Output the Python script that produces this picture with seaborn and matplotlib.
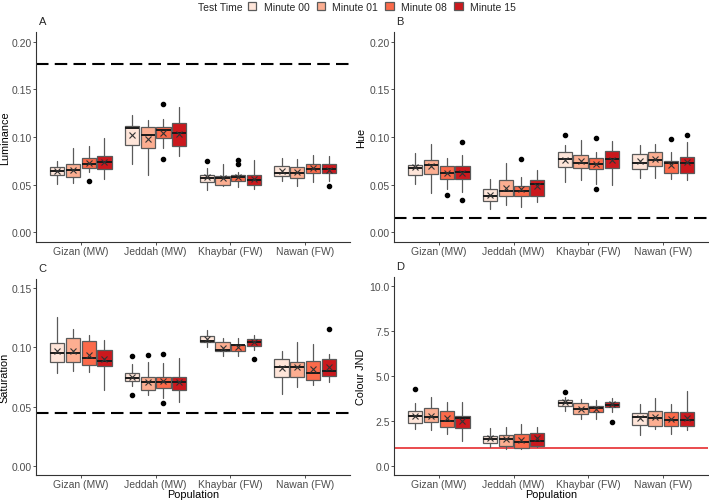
import numpy as np
import matplotlib
matplotlib.use("Agg")
import matplotlib.pyplot as plt
from matplotlib.patches import Patch
import seaborn as sns

populations = ["Gizan (MW)", "Jeddah (MW)", "Khaybar (FW)", "Nawan (FW)"]
test_times = ["Minute 00", "Minute 01", "Minute 08", "Minute 15"]

# rows = population, columns = test time
# Luminance
lum_lo = [[0.051, 0.052, 0.063, 0.056], [0.072, 0.060, 0.088, 0.080],
          [0.044, 0.049, 0.048, 0.046], [0.054, 0.049, 0.053, 0.054]]
lum_q1 = [[0.060, 0.058, 0.068, 0.066], [0.092, 0.088, 0.099, 0.091],
          [0.053, 0.050, 0.054, 0.050], [0.059, 0.0575, 0.0625, 0.0625]]
lum_med = [[0.064, 0.065, 0.072, 0.074], [0.109, 0.1025, 0.107, 0.104],
           [0.0568, 0.0568, 0.0586, 0.0551], [0.0625, 0.0625, 0.0667, 0.0663]]
lum_q3 = [[0.069, 0.072, 0.078, 0.080], [0.1116, 0.110, 0.111, 0.1147],
          [0.0607, 0.0596, 0.0603, 0.0603], [0.070, 0.0688, 0.0719, 0.0719]]
lum_hi = [[0.075, 0.088, 0.091, 0.099], [0.1235, 0.1175, 0.119, 0.1316],
          [0.068, 0.072, 0.063, 0.076], [0.078, 0.0765, 0.0807, 0.0804]]
lum_mean = [[0.064, 0.065, 0.073, 0.074], [0.1025, 0.098, 0.1046, 0.1035],
            [0.058, 0.057, 0.058, 0.056], [0.0649, 0.0632, 0.0674, 0.0656]]
lum_out = {(0, 2): [0.054], (1, 2): [0.135, 0.0765], (2, 0): [0.0744],
           (2, 2): [0.0761, 0.0719], (3, 3): [0.0484]}

# Hue
hue_lo = [[0.051, 0.041, 0.046, 0.042], [0.0246, 0.0288, 0.0263, 0.0316],
          [0.0526, 0.0554, 0.0509, 0.0498], [0.0572, 0.0572, 0.0561, 0.0554]]
hue_q1 = [[0.0607, 0.0614, 0.0561, 0.0558], [0.0326, 0.0386, 0.0386, 0.0386],
          [0.0684, 0.0674, 0.066, 0.0674], [0.0667, 0.0691, 0.0625, 0.0625]]
hue_med = [[0.0674, 0.0702, 0.0625, 0.0632], [0.0379, 0.0439, 0.0439, 0.0509],
           [0.0772, 0.0726, 0.0719, 0.0772], [0.0726, 0.0754, 0.073, 0.0726]]
hue_q3 = [[0.0702, 0.0754, 0.0691, 0.0695], [0.0456, 0.0554, 0.0491, 0.0554],
          [0.0842, 0.0814, 0.0779, 0.0849], [0.0818, 0.0842, 0.0747, 0.0789]]
hue_hi = [[0.0835, 0.0923, 0.0779, 0.0807], [0.0561, 0.0726, 0.0579, 0.0656],
          [0.0912, 0.0972, 0.0842, 0.0954], [0.0919, 0.093, 0.0842, 0.0947]]
hue_mean = [[0.0684, 0.0695, 0.0625, 0.0625], [0.0396, 0.0463, 0.0453, 0.0491],
            [0.0761, 0.0744, 0.0712, 0.0754], [0.0744, 0.0772, 0.0709, 0.0737]]
hue_out = {(0, 2): [0.039], (0, 3): [0.0947, 0.034], (1, 2): [0.0765],
           (2, 0): [0.1018], (2, 2): [0.0993, 0.0456], (3, 2): [0.0982],
           (3, 3): [0.1025]}

# Saturation
sat_lo = [[0.078, 0.0797, 0.0792, 0.0644], [0.0672, 0.0602, 0.0574, 0.0538],
          [0.1006, 0.0923, 0.0923, 0.0979], [0.0608, 0.0664, 0.0686, 0.0705]]
sat_q1 = [[0.0875, 0.0873, 0.0848, 0.0845], [0.0714, 0.0641, 0.0658, 0.0638],
          [0.1043, 0.0965, 0.097, 0.1015], [0.0747, 0.0747, 0.0728, 0.0756]]
sat_med = [[0.0948, 0.0948, 0.0914, 0.0887], [0.0742, 0.0708, 0.0708, 0.0705],
           [0.1054, 0.0979, 0.1018, 0.1048], [0.0831, 0.0831, 0.0783, 0.0803]]
sat_q3 = [[0.104, 0.1076, 0.1054, 0.0979], [0.0783, 0.075, 0.075, 0.075],
          [0.1096, 0.1043, 0.102, 0.107], [0.0903, 0.0875, 0.0881, 0.090]]
sat_hi = [[0.1257, 0.1154, 0.110, 0.1062], [0.0859, 0.0875, 0.0867, 0.0909],
          [0.1146, 0.1076, 0.1076, 0.1104], [0.097, 0.1043, 0.1026, 0.0942]]
sat_mean = [[0.0965, 0.0965, 0.0937, 0.0903], [0.0747, 0.0711, 0.0714, 0.0705],
            [0.1071, 0.0998, 0.1001, 0.1043], [0.0825, 0.0831, 0.0817, 0.0836]]
sat_out = {(1, 0): [0.0923, 0.0597], (1, 1): [0.0937], (1, 2): [0.0945, 0.0527],
           (2, 3): [0.0903], (3, 3): [0.1154]}

# Colour JND
jnd_lo = [[2.06, 2.00, 1.78, 1.37], [1.08, 0.95, 0.95, 1.04],
          [3.08, 2.62, 2.62, 2.99], [1.74, 2.06, 1.78, 2.02]]
jnd_q1 = [[2.37, 2.45, 2.19, 2.10], [1.28, 1.13, 1.00, 1.13],
          [3.36, 2.89, 2.99, 3.27], [2.30, 2.24, 2.24, 2.24]]
jnd_med = [[2.80, 2.71, 2.52, 2.67], [1.48, 1.50, 1.32, 1.41],
           [3.49, 3.14, 3.23, 3.41], [2.71, 2.67, 2.58, 2.58]]
jnd_q3 = [[3.04, 3.21, 3.04, 2.76], [1.69, 1.71, 1.78, 1.84],
          [3.64, 3.49, 3.36, 3.54], [2.97, 3.08, 2.99, 2.99]]
jnd_hi = [[3.49, 3.82, 3.54, 3.54], [2.10, 2.15, 2.34, 2.19],
          [3.82, 3.73, 3.69, 3.77], [3.45, 3.77, 3.45, 4.14]]
jnd_mean = [[2.80, 2.80, 2.67, 2.49], [1.54, 1.48, 1.45, 1.54],
            [3.54, 3.17, 3.15, 3.45], [2.67, 2.71, 2.62, 2.65]]
jnd_out = {(0, 0): [4.29], (2, 0): [4.10], (2, 3): [2.47]}

palette = sns.color_palette(["#FEE5D9", "#FCAE91", "#FB6A4A", "#CB181D"])

sns.set_theme(style="white")
plt.rcParams["font.family"] = ["Liberation Sans", "DejaVu Sans"]

fig = plt.figure(figsize=(7.09, 5.02), dpi=100)
W, H = 709, 502


def add_axes(left, right, top, bottom):
    return fig.add_axes([left / W, 1 - bottom / H, (right - left) / W, (bottom - top) / H])


panels = [
    ("A", "Luminance", add_axes(36, 350, 33, 243),
     (lum_lo, lum_q1, lum_med, lum_q3, lum_hi, lum_mean, lum_out),
     (-0.01, 0.21), [0, 0.05, 0.10, 0.15, 0.20], "{:.2f}", ("dash", 0.176), False, -0.083),
    ("B", "Hue", add_axes(394, 708, 33, 243),
     (hue_lo, hue_q1, hue_med, hue_q3, hue_hi, hue_mean, hue_out),
     (-0.01, 0.21), [0, 0.05, 0.10, 0.15, 0.20], "{:.2f}", ("dash", 0.015), False, -0.089),
    ("C", "Saturation", add_axes(36, 350, 280, 476),
     (sat_lo, sat_q1, sat_med, sat_q3, sat_hi, sat_mean, sat_out),
     (-0.0075, 0.1575), [0, 0.05, 0.10, 0.15], "{:.2f}", ("dash", 0.045), True, -0.083),
    ("D", "Colour JND", add_axes(394, 708, 278, 476),
     (jnd_lo, jnd_q1, jnd_med, jnd_q3, jnd_hi, jnd_mean, jnd_out),
     (-0.5, 10.5), [0, 2.5, 5.0, 7.5, 10.0], "{:.1f}", ("red", 1.0), True, -0.089),
]

offsets = [-0.315, -0.105, 0.105, 0.315]
grey = "#5a5a5a"

for letter, ylabel, ax, data, ylim, yticks, fmt, ref, show_xlabel, ylab_x in panels:
    lo, q1, med, q3, hi, mean, out = data
    # reference line first so the boxes sit above it
    if ref[0] == "dash":
        ax.axhline(ref[1], color="black", lw=1.5, ls=(0, (6, 3)), zorder=1)
    else:
        ax.axhline(ref[1], color="#E41A1C", lw=1.1, zorder=1)
    for t in range(4):
        stats = []
        for p in range(4):
            stats.append(dict(whislo=lo[p][t], q1=q1[p][t], med=med[p][t], q3=q3[p][t],
                              whishi=hi[p][t], mean=mean[p][t], fliers=out.get((p, t), [])))
        pos = [p + offsets[t] for p in range(4)]
        ax.bxp(stats, positions=pos, widths=0.19, patch_artist=True, showmeans=True,
               showcaps=False, manage_ticks=False,
               boxprops=dict(facecolor=palette[t], edgecolor=grey, lw=0.9),
               whiskerprops=dict(color=grey, lw=0.9),
               medianprops=dict(color="#1a1a1a", lw=1.4),
               meanprops=dict(marker="x", markeredgecolor="#333333", markersize=5,
                              markeredgewidth=0.8),
               flierprops=dict(marker="o", markerfacecolor="black", markeredgecolor="black",
                               markersize=3))
    ax.set_xlim(-0.6, 3.6)
    ax.set_ylim(*ylim)
    ax.set_xticks(range(4))
    ax.set_xticklabels(populations)
    ax.set_yticks(yticks)
    ax.set_yticklabels([fmt.format(v) for v in yticks])
    ax.tick_params(axis="both", labelsize=7.5, labelcolor="#4d4d4d", color="#333333",
                   length=2.2, width=0.6, bottom=True, left=True, pad=0.8)
    ax.set_ylabel(ylabel, fontsize=7.8, color="black")
    ax.yaxis.set_label_coords(ylab_x, 0.5)
    if show_xlabel:
        ax.set_xlabel("Population", fontsize=7.8, color="black", labelpad=0)
    else:
        ax.set_xlabel("")
    sns.despine(ax=ax)
    for side in ("left", "bottom"):
        ax.spines[side].set_color("#333333")
        ax.spines[side].set_linewidth(0.8)
    ax.text(0.008, 1.03, letter, transform=ax.transAxes, fontsize=8, ha="left", va="bottom")

# legend: title on the left of one row of keys
fig.text(243 / W, 1 - 8 / H, "Test Time", fontsize=7.5, ha="right", va="center")
handles = [Patch(facecolor=palette[i], edgecolor=grey, lw=0.9) for i in range(4)]
fig.legend(handles, test_times, loc="center left", bbox_to_anchor=(248 / W, 1 - 8 / H),
           ncol=4, frameon=False, fontsize=7.5, handlelength=0.8, handleheight=0.8,
           handletextpad=0.7, columnspacing=0.7, borderpad=0, borderaxespad=0)

fig.savefig("out.png", dpi=100)
